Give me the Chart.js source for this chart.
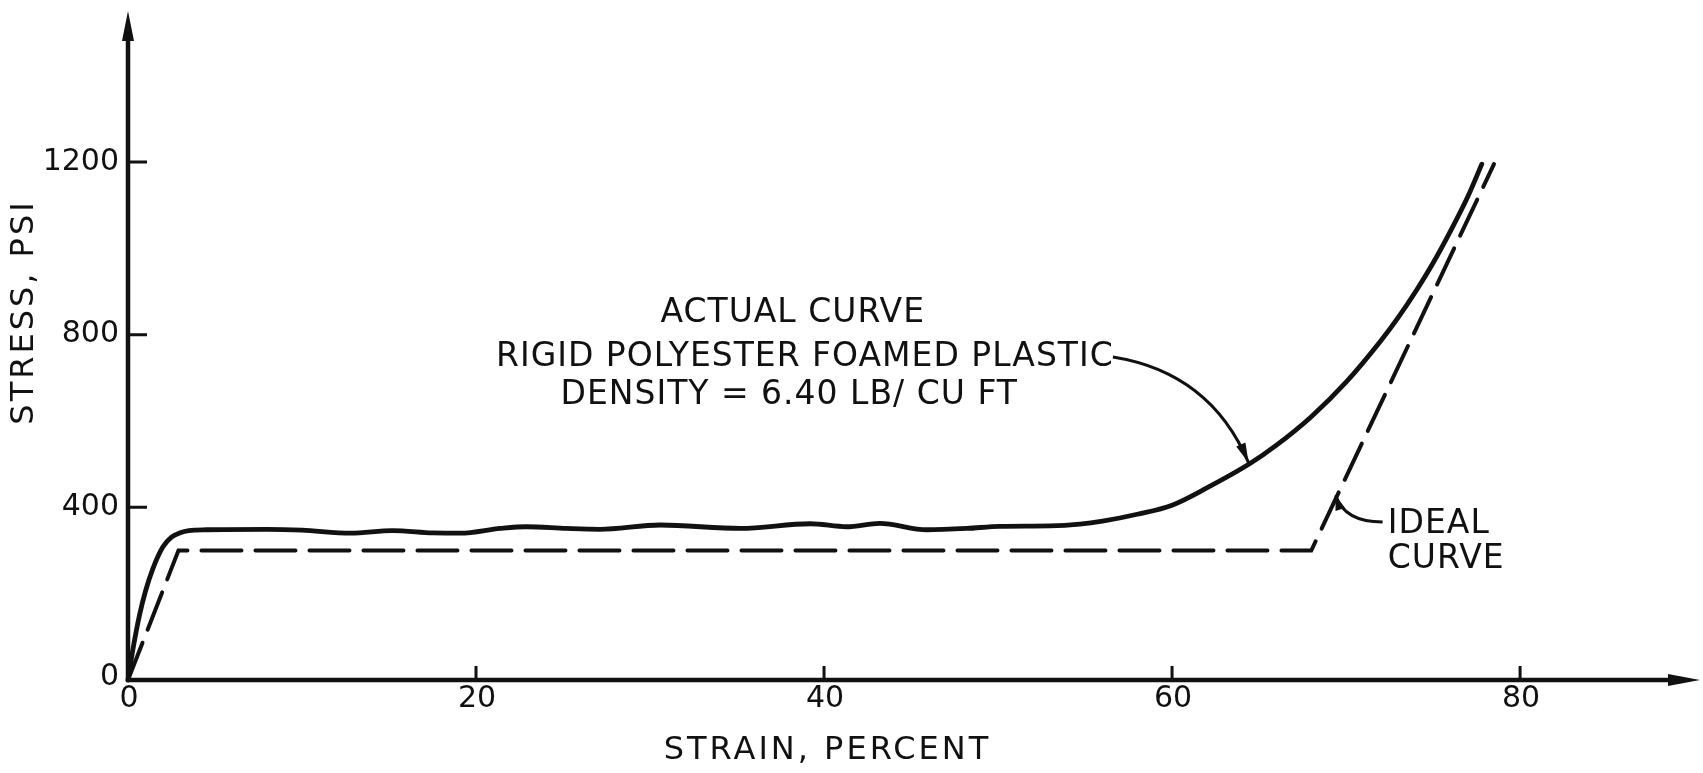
<!DOCTYPE html>
<html lang="en">
<head>
    <meta charset="UTF-8">
    <title>Stress-Strain Curve, Rigid Polyester Foamed Plastic</title>
    <script src="https://cdn.jsdelivr.net/npm/chart.js"></script>
    <style>
        body {
            margin: 0;
            background: #ffffff;
        }
    </style>
</head>
<body>
    <canvas id="foam-chart" width="1703" height="773"></canvas>

    <script>
        // Actual curve (strain in percent, stress in psi)
        const strainActual = [0, 0.3, 0.66, 1.0, 1.43, 2.0, 2.5, 3.0, 3.5, 4.5, 8, 10, 12.8, 15.2, 17.5, 19.1, 21.4, 22.9, 25.2, 27.1,
            30.6, 35.2, 39.2, 41.3, 43.2, 45.9, 48.2, 50.1, 53, 54.7, 56, 58, 60, 62, 64.5, 66, 68, 70, 72,
            73, 74, 75, 76, 77, 77.8];
        const stressActual = [0, 75, 150, 205, 258, 308, 331, 341, 346, 348, 349, 347, 340, 346, 341, 340, 351, 355, 351, 349,
            359, 351, 362, 355, 363, 348, 351, 356, 357, 361, 368, 384, 405, 445, 502, 544, 610, 690, 786,
            840, 900, 966, 1040, 1120, 1195];

        // Ideal curve (dashed)
        const strainIdeal = [0, 2.9, 68, 78.5];
        const stressIdeal = [0, 300, 300, 1195];

        // Axis ticks
        const xTicks = [0, 20, 40, 60, 80];
        const xTickLabels = ['0', '20', '40', '60', '80'];
        const yTicks = [0, 400, 800, 1200];
        const yTickLabels = ['0', '400', '800', '1200'];

        const xTitle = 'STRAIN, PERCENT';
        const yTitle = 'STRESS, PSI';
        const actualNote = ['ACTUAL CURVE', 'RIGID POLYESTER FOAMED PLASTIC', 'DENSITY = 6.40 LB/ CU FT'];
        const idealNote = ['IDEAL', 'CURVE'];

        const ink = '#111111';
        const font = '"DejaVu Sans", sans-serif';

        function toPoints(xs, ys) {
            return xs.map((v, i) => ({ x: v, y: ys[i] }));
        }

        function arrowHead(ctx, tipX, tipY, fromX, fromY, len, half) {
            const a = Math.atan2(tipY - fromY, tipX - fromX);
            ctx.beginPath();
            ctx.moveTo(tipX, tipY);
            ctx.lineTo(tipX - len * Math.cos(a) + half * Math.sin(a), tipY - len * Math.sin(a) - half * Math.cos(a));
            ctx.lineTo(tipX - len * Math.cos(a) - half * Math.sin(a), tipY - len * Math.sin(a) + half * Math.cos(a));
            ctx.closePath();
            ctx.fill();
        }

        // leader line drawn in data coordinates, arrow at the end
        function leader(chart, from, ctrl, tip, len) {
            const { ctx, scales: { x, y } } = chart;
            const p0 = [x.getPixelForValue(from[0]), y.getPixelForValue(from[1])];
            const p1 = [x.getPixelForValue(ctrl[0]), y.getPixelForValue(ctrl[1])];
            const p2 = [x.getPixelForValue(tip[0]), y.getPixelForValue(tip[1])];
            ctx.beginPath();
            ctx.moveTo(p0[0], p0[1]);
            ctx.quadraticCurveTo(p1[0], p1[1], p2[0], p2[1]);
            ctx.stroke();
            arrowHead(ctx, p2[0], p2[1], p1[0], p1[1], len, 5);
        }

        const drawingPlugin = {
            id: 'drawingPlugin',
            beforeDatasetsDraw(chart) {
                const { ctx, chartArea, scales: { x, y } } = chart;
                const x0 = x.getPixelForValue(0);
                const y0 = y.getPixelForValue(0);
                ctx.save();
                ctx.strokeStyle = ink;
                ctx.fillStyle = ink;

                // axes with arrows
                ctx.lineWidth = 4.5;
                ctx.beginPath();
                ctx.moveTo(x0, y0 + 2);
                ctx.lineTo(x0, chartArea.top + 20);
                ctx.moveTo(x0 - 2, y0);
                ctx.lineTo(chartArea.right - 20, y0);
                ctx.stroke();
                arrowHead(ctx, x0, chartArea.top, x0, chartArea.top + 10, 30, 6);
                arrowHead(ctx, chartArea.right, y0, chartArea.right - 10, y0, 32, 6);

                // tick marks point into the plot
                ctx.lineWidth = 3;
                ctx.beginPath();
                yTicks.forEach(v => {
                    if (v === 0) return;
                    const py = y.getPixelForValue(v);
                    ctx.moveTo(x0, py);
                    ctx.lineTo(x0 + 19, py);
                });
                xTicks.forEach(v => {
                    if (v === 0) return;
                    const px = x.getPixelForValue(v);
                    ctx.moveTo(px, y0);
                    ctx.lineTo(px, y0 - 14);
                });
                ctx.stroke();

                // tick labels
                ctx.font = '30px ' + font;
                ctx.textBaseline = 'middle';
                ctx.textAlign = 'right';
                yTicks.forEach((v, i) => {
                    ctx.fillText(yTickLabels[i], x0 - 9, y.getPixelForValue(v) - (v === 0 ? 3 : 0));
                });
                ctx.textAlign = 'center';
                xTicks.forEach((v, i) => {
                    ctx.fillText(xTickLabels[i], x.getPixelForValue(v) + 1, y0 + 19);
                });

                // axis titles
                ctx.font = '32px ' + font;
                ctx.letterSpacing = '3px';
                ctx.fillText(xTitle, x.getPixelForValue(40.2), y0 + 71);
                ctx.save();
                ctx.translate(25, 312);
                ctx.rotate(-Math.PI / 2);
                ctx.fillText(yTitle, 0, 0);
                ctx.restore();
                ctx.restore();
            },
            afterDatasetsDraw(chart) {
                const { ctx, scales: { x, y } } = chart;
                ctx.save();
                ctx.fillStyle = ink;
                ctx.strokeStyle = ink;
                ctx.font = '33px ' + font;
                ctx.letterSpacing = '1px';
                ctx.textBaseline = 'middle';

                ctx.textAlign = 'center';
                const noteX = [38.2, 38.9, 38.0];
                const noteY = [848, 748, 660];
                actualNote.forEach((t, i) => {
                    ctx.fillText(t, x.getPixelForValue(noteX[i]), y.getPixelForValue(noteY[i]));
                });
                ctx.textAlign = 'left';
                const idealY = [360, 279];
                idealNote.forEach((t, i) => {
                    ctx.fillText(t, x.getPixelForValue(72.4), y.getPixelForValue(idealY[i]));
                });

                ctx.lineWidth = 3;
                leader(chart, [56.6, 748], [62.2, 712], [64.4, 503], 20);
                leader(chart, [72.1, 366], [69.9, 366], [69.4, 428], 15);
                ctx.restore();
            }
        };

        const ctx = document.getElementById('foam-chart').getContext('2d');
        new Chart(ctx, {
            type: 'scatter',
            data: {
                datasets: [
                    {
                        label: 'Actual curve',
                        data: toPoints(strainActual, stressActual),
                        showLine: true,
                        borderColor: ink,
                        borderWidth: 4.8,
                        pointRadius: 0,
                        cubicInterpolationMode: 'monotone',
                        borderCapStyle: 'round',
                        clip: false,
                    },
                    {
                        label: 'Ideal curve',
                        data: toPoints(strainIdeal, stressIdeal),
                        showLine: true,
                        borderColor: ink,
                        borderWidth: 4,
                        borderDash: [40, 14],
                        borderCapStyle: 'round',
                        pointRadius: 0,
                        tension: 0,
                        clip: false,
                    },
                ],
            },
            options: {
                responsive: false,
                animation: false,
                layout: {
                    padding: { left: 128, right: 3, top: 11, bottom: 93 },
                },
                plugins: {
                    legend: { display: false },
                    tooltip: { enabled: false },
                },
                scales: {
                    x: { type: 'linear', min: 0, max: 90.34, display: false },
                    y: { type: 'linear', min: 0, max: 1549.7, display: false },
                },
            },
            plugins: [drawingPlugin],
        });
    </script>
</body>
</html>
